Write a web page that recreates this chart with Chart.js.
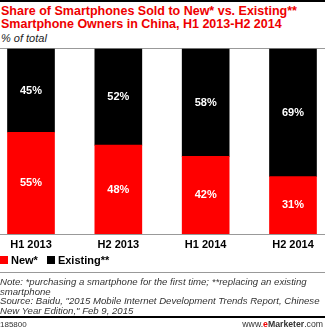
<!DOCTYPE html>
<html>
<head>
<meta charset="utf-8">
<script src="https://cdn.jsdelivr.net/npm/chart.js@4"></script>
<style>
  body { margin: 0; width: 325px; height: 329px; background: #fff; font-family: "Liberation Sans", Arial, sans-serif; overflow: hidden; position: relative; }
  .topbar { height: 2px; background: #000; }
  .title { color: #e00; font-weight: bold; font-size: 12.5px; line-height: 13px; margin: 3px 0 0 1px; }
  .sub { font-style: italic; font-size: 11px; color: #222; margin: 1px 0 0 1px; line-height: 12px; }
  .rule { height: 1px; background: #999; margin-top: 4px; }
  #wrap { position: absolute; top: 46px; left: 0; width: 325px; height: 210px; }
  .legend { position: absolute; top: 254px; left: 0; font-weight: bold; font-size: 11px; line-height: 12px; color: #000; }
  .legend span.box { display: inline-block; width: 8px; height: 8px; margin-right: 3px; }
  .legend span.item { margin-right: 9px; }
  .note { position: absolute; top: 272px; left: 0; width: 325px; border-top: 1px solid #999; font-style: italic; font-size: 9.6px; line-height: 9.7px; color: #333; padding-top: 4px; white-space: nowrap; }
  .foot { position: absolute; top: 316px; left: 0; width: 325px; height: 13px; border-top: 2px solid #000; font-size: 8px; color: #333; }
  .foot .l { position: absolute; left: 0; top: 2px; }
  .foot .r { position: absolute; right: 2px; top: 1px; font-size: 8.7px; }
</style>
</head>
<body>
<div class="topbar"></div>
<div class="title">Share of Smartphones Sold to New* vs. Existing**<br>Smartphone Owners in China, H1 2013-H2 2014</div>
<div class="sub">% of total</div>
<div class="rule"></div>
<div id="wrap"><canvas id="chart"></canvas></div>
<div class="legend" id="legend"></div>
<div class="note">Note: *purchasing a smartphone for the first time; **replacing an existing<br>smartphone<br>Source: Baidu, "2015 Mobile Internet Development Trends Report, Chinese<br>New Year Edition," Feb 9, 2015</div>
<div class="foot"><span class="l">185800</span><span class="r">www.<b style="color:#e00">e</b><b>Marketer</b>.com</span></div>
<script>
// categories and series
var periods = ["H1 2013", "H2 2013", "H1 2014", "H2 2014"];
var newOwners = [55, 48, 42, 31];
var existingOwners = [45, 52, 58, 69];

// white % labels in the middle of each segment
var segmentLabels = {
  id: "segmentLabels",
  afterDatasetsDraw: function(chart) {
    var ctx = chart.ctx;
    ctx.save();
    ctx.font = "bold 11px 'Liberation Sans', Arial, sans-serif";
    ctx.fillStyle = "#fff";
    ctx.textAlign = "center";
    ctx.textBaseline = "middle";
    chart.data.datasets.forEach(function(ds, i) {
      chart.getDatasetMeta(i).data.forEach(function(bar, j) {
        var mid = (bar.y + bar.base) / 2;
        ctx.fillText(ds.data[j] + "%", bar.x, mid);
      });
    });
    ctx.restore();
  }
};

// axis line across the whole width
var baseLine = {
  id: "baseLine",
  afterDatasetsDraw: function(chart) {
    var ctx = chart.ctx;
    var y = Math.round(chart.scales.y.getPixelForValue(0)) + 0.5;
    ctx.save();
    ctx.strokeStyle = "#999";
    ctx.lineWidth = 1;
    ctx.beginPath();
    ctx.moveTo(0, y);
    ctx.lineTo(chart.width, y);
    ctx.stroke();
    ctx.restore();
  }
};

var ctx = document.getElementById("chart").getContext("2d");
var chart = new Chart(ctx, {
  type: "bar",
  data: {
    labels: periods,
    datasets: [
      { label: "New*", data: newOwners, backgroundColor: "#ff0000", barThickness: 47 },
      { label: "Existing**", data: existingOwners, backgroundColor: "#000000", barThickness: 47 }
    ]
  },
  options: {
    responsive: true,
    maintainAspectRatio: false,
    animation: false,
    clip: false,
    layout: { padding: { left: 31, right: 32, top: 3, bottom: 0 } },
    scales: {
      x: {
        stacked: true,
        offset: false,
        grid: { display: false, drawTicks: false },
        border: { display: false },
        ticks: { color: "#000", font: { family: "'Liberation Sans', Arial, sans-serif", weight: "bold", size: 11 }, padding: 4, maxRotation: 0 },
        afterFit: function(scale) { scale.height = 22; }
      },
      y: {
        stacked: true,
        display: false,
        min: 0,
        max: 100
      }
    },
    plugins: {
      legend: { display: false },
      tooltip: { enabled: false }
    }
  },
  plugins: [segmentLabels, baseLine]
});

// legend built from the chart's datasets
var legendEl = document.getElementById("legend");
chart.data.datasets.forEach(function(ds) {
  var item = document.createElement("span");
  item.className = "item";
  var box = document.createElement("span");
  box.className = "box";
  box.style.background = ds.backgroundColor;
  item.appendChild(box);
  item.appendChild(document.createTextNode(ds.label));
  legendEl.appendChild(item);
});
</script>
</body>
</html>
